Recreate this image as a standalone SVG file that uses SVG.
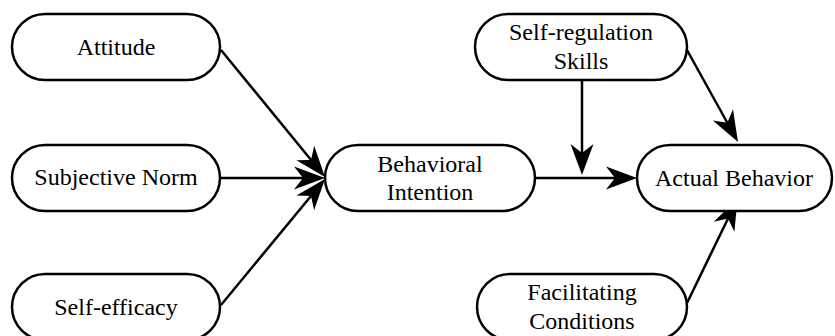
<svg xmlns="http://www.w3.org/2000/svg" width="835" height="336" viewBox="0 0 835 336">
<style>
.node rect{fill:#fff;stroke:#000;stroke-width:2.5}
.node text{font-size:24px;fill:#000;text-anchor:middle}
.edge{stroke:#000;stroke-width:2.5;fill:none;marker-end:url(#arr)}
</style>
<defs>
<marker id="arr" markerUnits="userSpaceOnUse" markerWidth="40" markerHeight="30" refX="-8" refY="0" orient="auto" overflow="visible">
<path d="M0,0 L-31,-11.5 L-22,0 L-31,11.5 Z" fill="#000"/>
</marker>
</defs>
<rect width="835" height="336" fill="#fff"/>
<g id="connectors">
<line class="edge" x1="221" y1="50" x2="319.9" y2="170.8"/>
<line class="edge" x1="220" y1="178" x2="317" y2="178"/>
<line class="edge" x1="221" y1="305" x2="319.9" y2="185.2"/>
<line class="edge" x1="535" y1="178" x2="629" y2="178"/>
<line class="edge" x1="582" y1="80" x2="582" y2="167"/>
<line class="edge" x1="687" y1="50" x2="734.1" y2="135"/>
<line class="edge" x1="687" y1="303" x2="734.1" y2="206"/>
</g>
<g font-family="Liberation Serif, DejaVu Serif, serif">
<g id="attitude" class="node"><rect x="12" y="14" width="208" height="66" rx="33"/><text x="116" y="55">Attitude</text></g>
<g id="subjective-norm" class="node"><rect x="12" y="145" width="208" height="66" rx="33"/><text x="116" y="185">Subjective Norm</text></g>
<g id="self-efficacy" class="node"><rect x="12" y="274" width="208" height="66" rx="33"/><text x="116" y="315">Self-efficacy</text></g>
<g id="behavioral-intention" class="node"><rect x="325" y="145" width="210" height="66" rx="33"/><text x="430" y="172">Behavioral</text><text x="430" y="200">Intention</text></g>
<g id="self-regulation" class="node"><rect x="475" y="14" width="212" height="66" rx="33"/><text x="581" y="40">Self-regulation</text><text x="581" y="69">Skills</text></g>
<g id="actual-behavior" class="node"><rect x="637" y="145" width="195" height="66" rx="33"/><text x="734" y="186">Actual Behavior</text></g>
<g id="facilitating-conditions" class="node"><rect x="477" y="274" width="210" height="66" rx="33"/><text x="582" y="300">Facilitating</text><text x="582" y="329">Conditions</text></g>
</g>
</svg>
